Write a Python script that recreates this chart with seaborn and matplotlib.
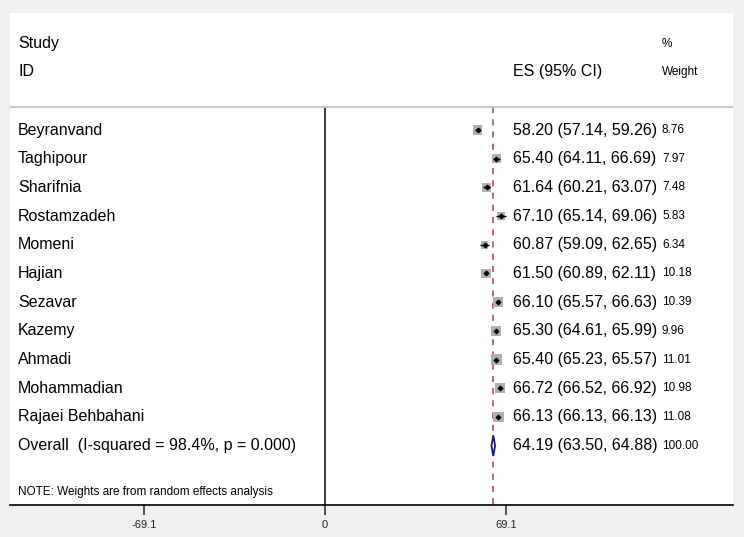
import numpy as np
import pandas as pd
import matplotlib
matplotlib.use("Agg")
import matplotlib.pyplot as plt
import seaborn as sns

# study-level estimates
studies = ["Beyranvand", "Taghipour", "Sharifnia", "Rostamzadeh", "Momeni", "Hajian",
           "Sezavar", "Kazemy", "Ahmadi", "Mohammadian", "Rajaei Behbahani"]
es = [58.20, 65.40, 61.64, 67.10, 60.87, 61.50, 66.10, 65.30, 65.40, 66.72, 66.13]
lo = [57.14, 64.11, 60.21, 65.14, 59.09, 60.89, 65.57, 64.61, 65.23, 66.52, 66.13]
hi = [59.26, 66.69, 63.07, 69.06, 62.65, 62.11, 66.63, 65.99, 65.57, 66.92, 66.13]
weight = [8.76, 7.97, 7.48, 5.83, 6.34, 10.18, 10.39, 9.96, 11.01, 10.98, 11.08]

overall_es, overall_lo, overall_hi, overall_weight = 64.19, 63.50, 64.88, 100.00
i_squared, p_het = 98.4, 0.000
xticks = [-69.1, 0, 69.1]
xtick_labels = ["-69.1", "0", "69.1"]

df = pd.DataFrame({"study": studies, "es": es, "lo": lo, "hi": hi, "weight": weight})
df["row"] = np.arange(len(df))
overall_row = len(df)

sns.set_style("white")
plt.rcParams["font.family"] = ["Liberation Sans", "DejaVu Sans"]
plt.rcParams["text.color"] = "black"

fig = plt.figure(figsize=(7.44, 5.37), dpi=100, facecolor="#f0f0f0")
ax = fig.add_axes([10 / 744, 32 / 537, 723 / 744, 492 / 537])
ax.set_facecolor("white")

ymax = 13.07
sep_y = -0.8

# reference lines
ax.vlines(0, sep_y, ymax, color="black", lw=1.1, zorder=1)
ax.vlines(overall_es, sep_y, ymax, color="#a8404c", lw=1.1, linestyles=(0, (4, 4)), zorder=1)
ax.axhline(sep_y, color="#c8c8c8", lw=1.5)

# weight boxes (area ~ weight), CI lines and point estimates
sns.scatterplot(data=df, x="es", y="row", size="weight", sizes=(5.83 * 5.0, 11.08 * 5.0),
                size_norm=(5.83, 11.08), marker="s", color="#b0b0b0", edgecolor="none",
                legend=False, ax=ax, zorder=2)
ax.hlines(df["row"], df["lo"], df["hi"], color="black", lw=1.0, zorder=3)
ax.scatter(df["es"], df["row"], marker="D", s=5, color="black", zorder=4)

# pooled diamond
ax.fill([overall_lo, overall_es, overall_hi, overall_es],
        [overall_row, overall_row - 0.36, overall_row, overall_row + 0.36],
        facecolor="white", edgecolor="#1c1c7a", lw=1.3, zorder=4)

# text columns
tf = ax.get_yaxis_transform()
x_lab, x_es, x_wt = 8 / 723, 503 / 723, 652 / 723
big, small = 11.5, 8.5
ax.text(x_lab, -3.0, "Study", transform=tf, fontsize=big, va="center")
ax.text(x_lab, -2.03, "ID", transform=tf, fontsize=big, va="center")
ax.text(x_es, -2.03, "ES (95% CI)", transform=tf, fontsize=big, va="center")
ax.text(x_wt, -3.0, "%", transform=tf, fontsize=small, va="center")
ax.text(x_wt, -2.03, "Weight", transform=tf, fontsize=small, va="center")

for _, r in df.iterrows():
    ax.text(x_lab, r["row"], r["study"], transform=tf, fontsize=big, va="center")
    ax.text(x_es, r["row"], f"{r['es']:.2f} ({r['lo']:.2f}, {r['hi']:.2f})",
            transform=tf, fontsize=big, va="center")
    ax.text(x_wt, r["row"], f"{r['weight']:.2f}", transform=tf, fontsize=small, va="center")

ax.text(x_lab, overall_row, f"Overall  (I-squared = {i_squared:.1f}%, p = {p_het:.3f})",
        transform=tf, fontsize=big, va="center")
ax.text(x_es, overall_row, f"{overall_es:.2f} ({overall_lo:.2f}, {overall_hi:.2f})",
        transform=tf, fontsize=big, va="center")
ax.text(x_wt, overall_row, f"{overall_weight:.2f}", transform=tf, fontsize=small, va="center")
ax.text(x_lab, 12.6, "NOTE: Weights are from random effects analysis",
        transform=tf, fontsize=small, va="center")

ax.set_xlim(-120.3, 155.7)
ax.set_ylim(ymax, -4.08)
ax.set_yticks([])
ax.set_xticks(xticks, labels=xtick_labels)
ax.tick_params(axis="x", bottom=True, length=7, width=1.2, color="#333333",
               labelsize=8, pad=4, labelcolor="#222222")
for side in ["top", "left", "right"]:
    ax.spines[side].set_visible(False)
ax.spines["bottom"].set_color("black")
ax.spines["bottom"].set_linewidth(1.2)
ax.set_xlabel("")
ax.set_ylabel("")

fig.savefig("out.png", dpi=100, facecolor=fig.get_facecolor())
